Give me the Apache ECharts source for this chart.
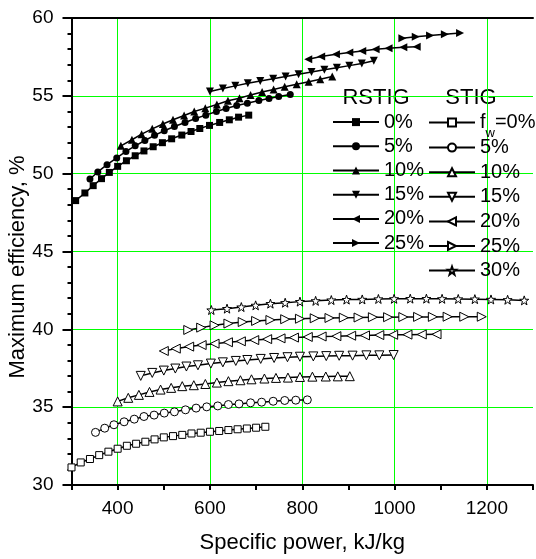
<!DOCTYPE html>
<html>
<head>
<meta charset="utf-8">
<script src="https://cdn.jsdelivr.net/npm/echarts@6/dist/echarts.min.js"></script>
<style>
  html, body { margin: 0; padding: 0; background: #fff; }
  #chart { width: 536px; height: 559px; }
</style>
</head>
<body>
<div id="chart"></div>
<script>
// RSTIG curves (filled markers)
const r0X = [309, 329, 347, 365, 382, 400, 419, 438, 457, 477, 497, 517, 539, 559, 578, 599, 621, 642, 662, 684];
const r0Y = [48.27, 48.76, 49.23, 49.68, 50.08, 50.47, 50.83, 51.15, 51.46, 51.73, 51.99, 52.24, 52.48, 52.71, 52.90, 53.10, 53.29, 53.46, 53.63, 53.76];
const r5X = [340, 357, 377, 398, 418, 438, 459, 480, 501, 523, 546, 569, 591, 614, 635, 658, 681, 706, 728, 749, 774];
const r5Y = [49.66, 50.11, 50.58, 51.01, 51.43, 51.79, 52.13, 52.46, 52.76, 53.03, 53.29, 53.54, 53.76, 53.99, 54.19, 54.38, 54.53, 54.70, 54.83, 54.96, 55.08];
const r10X = [407, 431, 452, 475, 498, 520, 544, 566, 590, 615, 639, 664, 688, 713, 738, 762, 788, 814, 839, 865];
const r10Y = [51.79, 52.18, 52.54, 52.88, 53.19, 53.46, 53.74, 53.99, 54.21, 54.44, 54.68, 54.85, 55.06, 55.24, 55.41, 55.58, 55.74, 55.90, 56.06, 56.24];
const r15X = [600, 628, 655, 682, 709, 737, 764, 792, 820, 848, 875, 902, 929, 955];
const r15Y = [55.28, 55.47, 55.64, 55.81, 55.96, 56.10, 56.24, 56.38, 56.53, 56.67, 56.81, 56.94, 57.08, 57.26];
const r20X = [813, 841, 873, 902, 930, 959, 987, 1019, 1048];
const r20Y = [57.35, 57.52, 57.67, 57.78, 57.88, 57.99, 58.06, 58.12, 58.16];
const r25X = [1017, 1046, 1077, 1109, 1142];
const r25Y = [58.70, 58.80, 58.88, 58.96, 59.03];

// STIG curves (open markers)
const s0X = [300, 320, 340, 360, 380, 400, 420, 440, 460, 480, 500, 520, 540, 560, 580, 600, 620, 640, 660, 680, 700, 720];
const s0Y = [31.13, 31.45, 31.67, 31.92, 32.14, 32.33, 32.52, 32.65, 32.78, 32.93, 33.06, 33.14, 33.22, 33.31, 33.36, 33.42, 33.47, 33.53, 33.58, 33.63, 33.68, 33.74];
const s5X = [352, 372, 392, 414, 436, 457, 479, 501, 523, 547, 570, 593, 617, 640, 663, 688, 712, 737, 762, 786, 811];
const s5Y = [33.38, 33.65, 33.87, 34.06, 34.23, 34.40, 34.49, 34.62, 34.70, 34.83, 34.94, 35.02, 35.08, 35.17, 35.21, 35.28, 35.32, 35.38, 35.43, 35.45, 35.47];
const s10X = [400, 423, 446, 469, 493, 516, 540, 565, 590, 615, 640, 666, 690, 718, 743, 769, 795, 822, 851, 877, 903];
const s10Y = [35.37, 35.60, 35.79, 35.98, 36.13, 36.24, 36.35, 36.41, 36.49, 36.58, 36.67, 36.73, 36.79, 36.84, 36.88, 36.90, 36.94, 36.96, 36.97, 36.98, 36.99];
const s15X = [450, 475, 500, 525, 549, 574, 602, 628, 656, 681, 710, 739, 768, 795, 824, 852, 880, 909, 939, 967, 998];
const s15Y = [37.01, 37.20, 37.35, 37.48, 37.61, 37.69, 37.80, 37.88, 37.97, 38.03, 38.10, 38.16, 38.21, 38.24, 38.26, 38.28, 38.30, 38.31, 38.33, 38.33, 38.35];
const s20X = [500, 526, 555, 582, 610, 639, 667, 696, 724, 753, 782, 812, 842, 874, 906, 936, 967, 997, 1028, 1059, 1091];
const s20Y = [38.61, 38.76, 38.89, 38.99, 39.08, 39.17, 39.23, 39.31, 39.37, 39.42, 39.47, 39.51, 39.54, 39.56, 39.59, 39.61, 39.63, 39.65, 39.66, 39.67, 39.68];
const s25X = [553, 581, 610, 640, 671, 700, 731, 763, 795, 827, 859, 890, 922, 953, 986, 1019, 1051, 1083, 1115, 1151, 1189];
const s25Y = [39.96, 40.11, 40.26, 40.37, 40.47, 40.54, 40.60, 40.65, 40.68, 40.71, 40.73, 40.75, 40.76, 40.78, 40.78, 40.79, 40.80, 40.80, 40.81, 40.81, 40.81];
const s30X = [603, 637, 668, 699, 731, 763, 795, 829, 863, 896, 930, 965, 999, 1034, 1069, 1103, 1138, 1174, 1209, 1245, 1281];
const s30Y = [41.24, 41.33, 41.43, 41.54, 41.65, 41.71, 41.78, 41.83, 41.88, 41.91, 41.92, 41.95, 41.96, 41.97, 41.97, 41.96, 41.95, 41.94, 41.92, 41.90, 41.86];

const rstigLabels = ['0%', '5%', '10%', '15%', '20%', '25%'];
const stigLabels = ['0%', '5%', '10%', '15%', '20%', '25%', '30%'];
const xTicks = [400, 600, 800, 1000, 1200];

const FONT = 'Liberation Sans, Arial, sans-serif';
const GREEN = '#00ff00';

const TRI_DOWN = 'path://M0,0 L10,0 L5,10 Z';
const TRI_LEFT = 'path://M10,0 L10,10 L0,5 Z';
const TRI_RIGHT = 'path://M0,0 L10,5 L0,10 Z';
const STAR = 'path://M5,0 L6.18,3.38 L9.76,3.45 L6.9,5.62 L7.94,9.05 L5,7 L2.06,9.05 L3.1,5.62 L0.24,3.45 L3.82,3.38 Z';

const zip = (xs, ys) => xs.map((x, i) => [x, ys[i]]);

const makeSeries = (name, xs, ys, symbol, size, open) => ({
  name,
  type: 'line',
  data: zip(xs, ys),
  symbol,
  symbolSize: size,
  showAllSymbol: true,
  lineStyle: { color: '#000', width: 1.5 },
  itemStyle: open
    ? { color: '#fff', borderColor: '#000', borderWidth: 1 }
    : { color: '#000', borderWidth: 0 },
  emphasis: { disabled: true },
  animation: false
});

const rstig = rstigLabels.map((lab, i) => makeSeries('R ' + lab,
  [r0X, r5X, r10X, r15X, r20X, r25X][i],
  [r0Y, r5Y, r10Y, r15Y, r20Y, r25Y][i],
  ['rect', 'circle', 'triangle', TRI_DOWN, TRI_LEFT, TRI_RIGHT][i],
  [7, 7, 8, 8, 8, 8][i], false));

const stig = stigLabels.map((lab, i) => makeSeries('S ' + lab,
  [s0X, s5X, s10X, s15X, s20X, s25X, s30X][i],
  [s0Y, s5Y, s10Y, s15Y, s20Y, s25Y, s30Y][i],
  ['rect', 'circle', 'triangle', TRI_DOWN, TRI_LEFT, TRI_RIGHT, STAR][i],
  [7, 8, 9, 9, 9, 9, 9][i], true));

const chart = echarts.init(document.getElementById('chart'), null, { renderer: 'canvas' });

chart.setOption({
  animation: false,
  backgroundColor: '#fff',
  textStyle: { fontFamily: FONT, color: '#000' },
  grid: { left: 71.5, top: 18, right: -4, bottom: 73, containLabel: false },
  xAxis: [{
    type: 'value',
    position: 'bottom',
    min: 300,
    max: 1300,
    interval: 100,
    name: 'Specific power, kJ/kg',
    nameLocation: 'middle',
    nameGap: 47,
    nameTextStyle: { fontSize: 22, fontFamily: FONT, color: '#000' },
    axisLine: { lineStyle: { color: '#000', width: 2 } },
    axisTick: { show: true, inside: false, length: 5, lineStyle: { color: '#000', width: 2 } },
    axisLabel: {
      fontSize: 19, fontFamily: FONT, color: '#000', margin: 14,
      formatter: (v) => xTicks.includes(v) ? String(v) : ''
    },
    // every other line (400, 600, ...) is green, the 100-steps between stay hidden
    splitLine: { show: true, lineStyle: { color: ['rgba(0,0,0,0)', GREEN], width: 1 } }
  }, {
    type: 'value',
    position: 'top',
    min: 300,
    max: 1300,
    axisLine: { show: true, onZero: false, lineStyle: { color: '#000', width: 2 } },
    axisTick: { show: false },
    axisLabel: { show: false },
    splitLine: { show: false }
  }],
  yAxis: {
    type: 'value',
    min: 30,
    max: 60,
    interval: 5,
    axisLine: { show: true, lineStyle: { color: '#000', width: 2 } },
    axisTick: { show: true, length: 9, lineStyle: { color: '#000', width: 2 } },
    minorTick: { show: true, splitNumber: 5, length: 4, lineStyle: { color: '#000', width: 2 } },
    axisLabel: { fontSize: 19, fontFamily: FONT, color: '#000', margin: 18 },
    splitLine: { show: true, showMinLine: false, showMaxLine: false, lineStyle: { color: GREEN, width: 1 } }
  },
  legend: [{
    orient: 'vertical',
    left: 332,
    top: 110,
    padding: 0,
    itemWidth: 46,
    itemHeight: 10,
    itemGap: 0,
    selectedMode: false,
    data: rstig.map(s => s.name),
    formatter: (name) => name.slice(2),
    lineStyle: { width: 2 },
    textStyle: { fontSize: 20, fontFamily: FONT, color: '#000', lineHeight: 24.2 }
  }, {
    orient: 'vertical',
    left: 428,
    top: 105,
    padding: 0,
    itemWidth: 46,
    itemHeight: 10,
    itemGap: -9.4,
    selectedMode: false,
    data: stig.map(s => s.name),
    formatter: (name) => name === 'S 0%' ? '{t|f}{s|w}{t|=0%}' : '{t|' + name.slice(2) + '}',
    lineStyle: { width: 2 },
    textStyle: {
      fontSize: 20, fontFamily: FONT, color: '#000', lineHeight: 34,
      rich: {
        t: { fontSize: 20, fontFamily: FONT, color: '#000', lineHeight: 34 },
        s: { fontSize: 13, fontFamily: FONT, color: '#000', lineHeight: 12, padding: [22, 0, 0, 0] }
      }
    }
  }],
  graphic: [
    { type: 'text', x: 376, y: 98, style: { text: 'RSTIG', font: '22px ' + FONT, fill: '#000', align: 'center', verticalAlign: 'middle' } },
    { type: 'text', x: 471, y: 98, style: { text: 'STIG', font: '22px ' + FONT, fill: '#000', align: 'center', verticalAlign: 'middle' } },
    { type: 'text', x: 18, y: 267, rotation: Math.PI / 2, style: { text: 'Maximum efficiency, %', font: '22px ' + FONT, fill: '#000', align: 'center', verticalAlign: 'middle' } }
  ],
  series: rstig.concat(stig)
});
</script>
</body>
</html>
